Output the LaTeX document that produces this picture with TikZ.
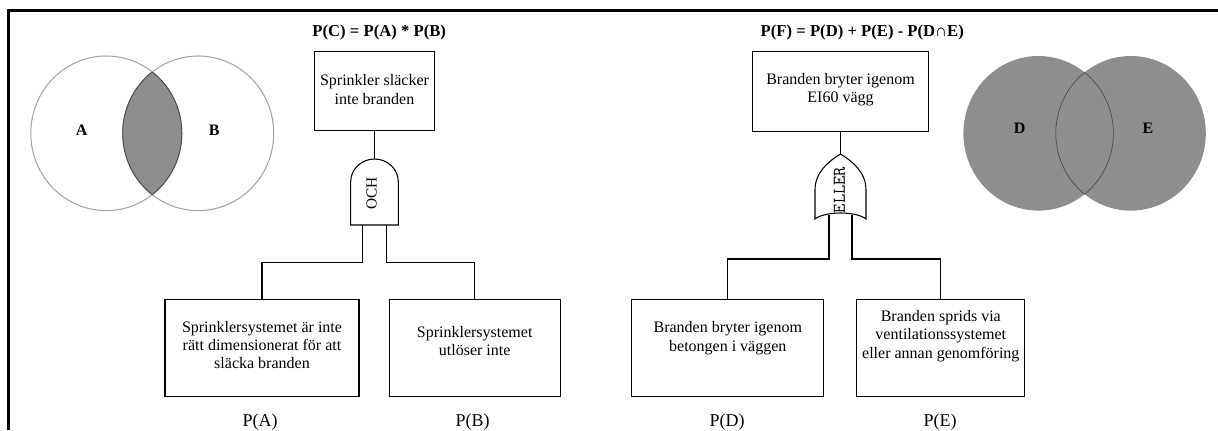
\documentclass[tikz,border=0pt]{standalone}
\usepackage{fontspec}
\setmainfont{Liberation Serif}

\definecolor{venngray}{RGB}{142,142,142}
\definecolor{rimgray}{RGB}{165,165,165}
\definecolor{lensline}{RGB}{75,75,75}

\tikzset{
  eventbox/.style={draw, line width=0.8pt, inner sep=0pt},
  eventtext/.style={align=center, inner sep=0pt, font=\fontsize{12pt}{13.8pt}\selectfont},
  ptext/.style={inner sep=0pt, font=\fontsize{13.5pt}{15pt}\selectfont},
  eqtext/.style={inner sep=0pt, font=\bfseries\fontsize{12.5pt}{14pt}\selectfont},
  setname/.style={inner sep=0pt, font=\bfseries\fontsize{12pt}{14pt}\selectfont},
  wire/.style={line width=0.8pt}
}

\begin{document}
\begin{tikzpicture}[x=0.75pt,y=0.75pt,yscale=-1,xscale=1]
\useasboundingbox (0,0) rectangle (1218,430);

%Straight Lines: frame
\draw [line width=2pt]  (8.3,430) -- (8.3,10.7) -- (1218,10.7) ;

%Shape: Ellipse A and B
\draw [rimgray, line width=0.8pt] (106.3,133.3) ellipse [x radius=75.5, y radius=77.3] ;
\draw [rimgray, line width=0.8pt] (198.2,133.3) ellipse [x radius=75.5, y radius=77.3] ;
\begin{scope}
\clip (106.3,133.3) ellipse [x radius=75.5, y radius=77.3] ;
\fill [venngray] (198.2,133.3) ellipse [x radius=75.5, y radius=77.3] ;
\draw [lensline, line width=0.7pt] (198.2,133.3) ellipse [x radius=75.5, y radius=77.3] ;
\end{scope}
\begin{scope}
\clip (198.2,133.3) ellipse [x radius=75.5, y radius=77.3] ;
\draw [lensline, line width=0.7pt] (106.3,133.3) ellipse [x radius=75.5, y radius=77.3] ;
\end{scope}

%Shape: Ellipse D and E
\fill [venngray] (1038.4,133.3) ellipse [x radius=75, y radius=77.3] ;
\fill [venngray] (1130.8,133.3) ellipse [x radius=75, y radius=77.3] ;
\begin{scope}
\clip (1038.4,133.3) ellipse [x radius=75, y radius=77.3] ;
\draw [lensline, line width=0.5pt] (1130.8,133.3) ellipse [x radius=75, y radius=77.3] ;
\end{scope}
\begin{scope}
\clip (1130.8,133.3) ellipse [x radius=75, y radius=77.3] ;
\draw [lensline, line width=0.5pt] (1038.4,133.3) ellipse [x radius=75, y radius=77.3] ;
\end{scope}

% Text Node
\node [setname] (setA) at (81.7,130.7) {A};
\node [setname] (setB) at (214.3,130.7) {B};
\node [setname] (setD) at (1019.7,128.3) {D};
\node [setname] (setE) at (1148,128.3) {E};

% Text Node
\node [eqtext] (eqC) at (379.2,32.7) {P(C) = P(A) * P(B)};
\node [eqtext] (eqF) at (862.3,32.7) {P(F) = P(D) + P(E) - P(D∩E)};

%Shape: Rectangle
\node [eventbox, minimum width=120*0.75pt, minimum height=79*0.75pt] (topC) at (374.5,91.2) {};
\node [eventbox, minimum width=176.7*0.75pt, minimum height=80*0.75pt] (topF) at (840.5,91.7) {};
\node [eventbox, minimum width=194*0.75pt, minimum height=96.7*0.75pt] (boxA) at (262,348.3) {};
\node [eventbox, minimum width=171*0.75pt, minimum height=96.7*0.75pt] (boxB) at (474.7,348.3) {};
\node [eventbox, minimum width=192.3*0.75pt, minimum height=96.7*0.75pt] (boxD) at (727.8,348.3) {};
\node [eventbox, minimum width=168.3*0.75pt, minimum height=96.7*0.75pt] (boxE) at (940.8,348.3) {};

% Text Node
\node [eventtext] (topCtxt) at (374.5,89.5) {Sprinkler släcker\\inte branden};
\node [eventtext] (topFtxt) at (840.5,89.5) {Branden bryter igenom\\EI60 vägg};
\node [eventtext] (boxAtxt) at (262,345) {Sprinklersystemet är inte\\rätt dimensionerat för att\\släcka branden};
\node [eventtext] (boxBtxt) at (474.7,341) {Sprinklersystemet\\utlöser inte};
\node [eventtext] (boxDtxt) at (727.8,338) {Branden bryter igenom\\betongen i väggen};
\node [eventtext] (boxEtxt) at (940.8,336) {Branden sprids via\\ventilationssystemet\\eller annan genomföring};

% Text Node
\node [ptext] (pA) at (260,422) {P(A)};
\node [ptext] (pB) at (472.7,422) {P(B)};
\node [ptext] (pD) at (727,422) {P(D)};
\node [ptext] (pE) at (940,422) {P(E)};

%Shape: AND gate
\coordinate (ochtop) at (374.5,159);
\coordinate (ochL) at (362.5,225);
\coordinate (ochR) at (386.7,225);
\draw [line width=0.8pt] (350.7,225) -- (350.7,181.7) .. controls (350.7,169.2) and (361.4,159) .. (374.5,159) .. controls (387.6,159) and (398.3,169.2) .. (398.3,181.7) -- (398.3,225) -- cycle ;
\node [rotate=90, inner sep=0pt, font=\fontsize{11.5pt}{12pt}\selectfont] (och) at (371.7,193.3) {OCH};

%Shape: OR gate
\coordinate (ellertop) at (840.5,154);
\coordinate (ellerL) at (829,215);
\coordinate (ellerR) at (852,215);
\draw [line width=0.8pt] (815,219) -- (815,190) .. controls (815,172) and (829,161) .. (840.5,154) .. controls (852,161) and (866,172) .. (866,190) -- (866,219) .. controls (856,211) and (825,211) .. (815,219) -- cycle ;
\node [rotate=90, inner sep=0pt, font=\ttfamily\fontsize{13.5pt}{14pt}\selectfont] (eller) at (839.5,190) {ELLER};

%Straight Lines
\draw [wire] (topC.south) -- (ochtop) ;
\draw [wire] (ochL) -- ++(0,37.5) -| (boxA.north) ;
\draw [wire] (ochR) -- ++(0,37.5) -| (boxB.north) ;
\draw [wire] (topF.south) -- (ellertop) ;
\draw [wire] (ellerL) -- ++(0,44) -| (boxD.north) ;
\draw [wire] (ellerR) -- ++(0,44) -| (boxE.north) ;

\end{tikzpicture}
\end{document}
